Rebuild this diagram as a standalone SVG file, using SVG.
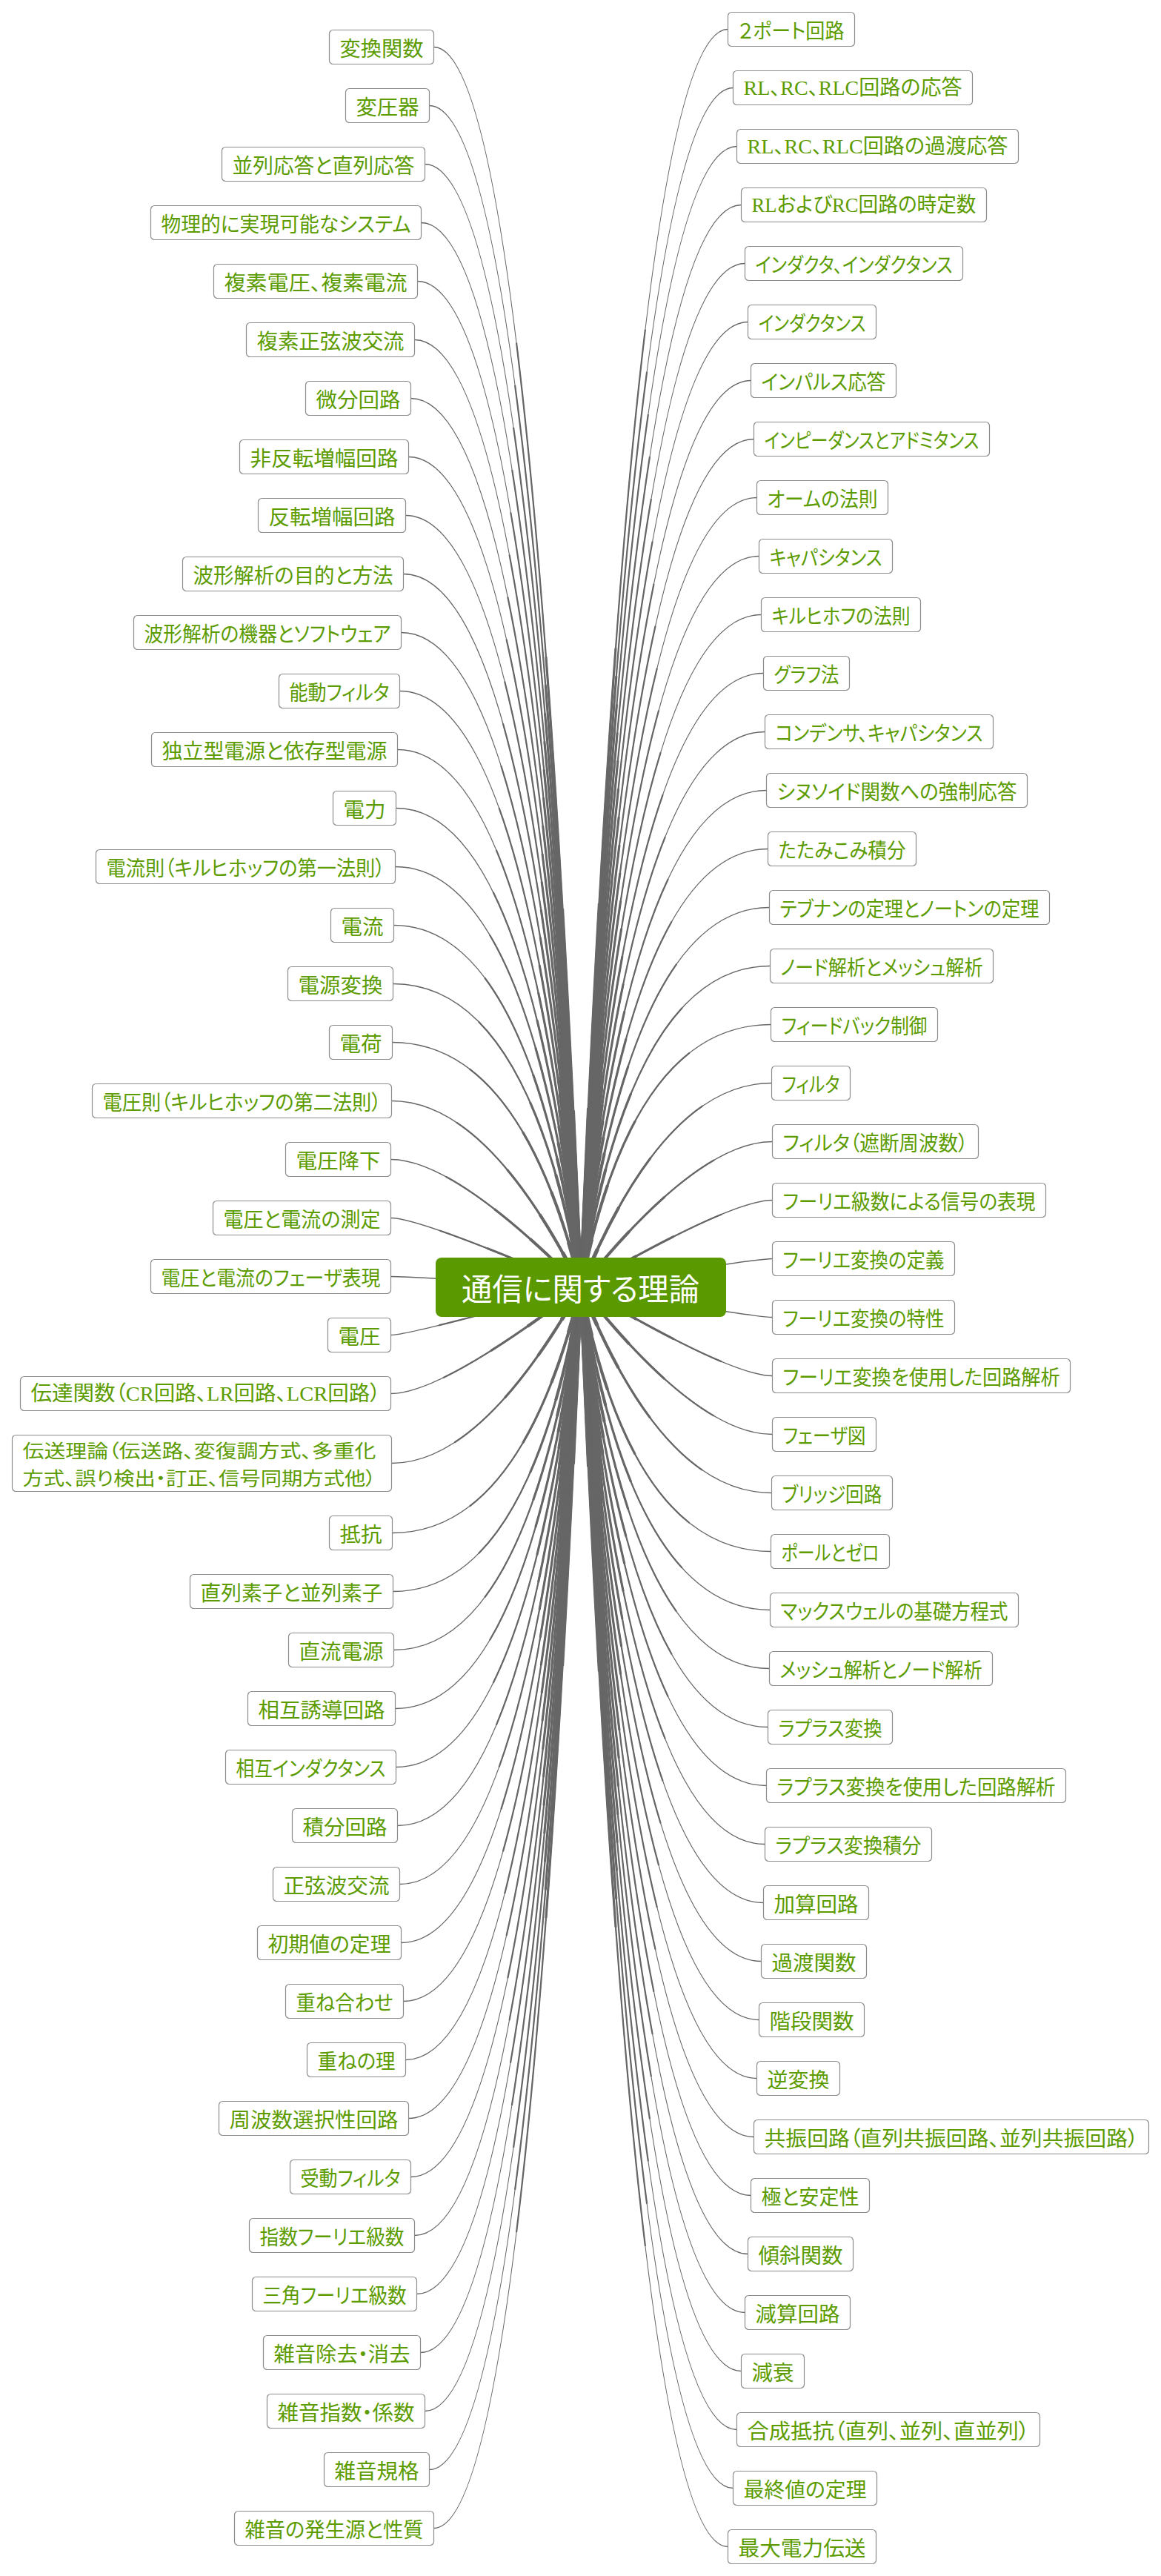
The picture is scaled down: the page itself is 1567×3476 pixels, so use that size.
<svg xmlns="http://www.w3.org/2000/svg" xmlns:xlink="http://www.w3.org/1999/xlink" width="1567" height="3476" viewBox="0 0 1567 3476">
<style>
.bg{fill:#fff}
.b{fill:#fff;stroke:#8c8c8c;stroke-width:1.2}
.t{font-family:"Noto Sans CJK JP","Noto Sans CJK SC",sans-serif;font-size:28px;fill:#5c9c00;text-anchor:middle;dominant-baseline:central;font-feature-settings:"palt"}
.s{font-family:"Liberation Serif","Noto Sans CJK JP",serif}
.st{text-anchor:start;font-size:25px}
.base{fill:none;stroke:#666;stroke-width:1.3}
.t1{fill:none;stroke:#666;stroke-width:2.2;stroke-dasharray:0 25 100}
.t2{fill:none;stroke:#666;stroke-width:3.1;stroke-dasharray:0 50 100}
.t3{fill:none;stroke:#666;stroke-width:4.1;stroke-dasharray:0 70 100}
.t4{fill:none;stroke:#666;stroke-width:5.3;stroke-dasharray:0 86 100}
.rt{font-family:"Noto Sans CJK JP",sans-serif;font-size:42px;fill:#fff;text-anchor:middle;dominant-baseline:central;font-feature-settings:"palt"}
</style>
<rect class="bg" x="0" y="0" width="1567" height="3476"/>
<g id="connectors">
<g class="base">
<path id="cl0" pathLength="100" d="M585.5,63.5Q714,63.5 784,1737"/>
<path id="cl1" pathLength="100" d="M579.5,142.5Q714,142.5 784,1737"/>
<path id="cl2" pathLength="100" d="M573.5,221.5Q714,221.5 784,1737"/>
<path id="cl3" pathLength="100" d="M568.5,300.5Q714,300.5 784,1737"/>
<path id="cl4" pathLength="100" d="M563.5,379.5Q714,379.5 784,1737"/>
<path id="cl5" pathLength="100" d="M559.5,458.5Q714,458.5 784,1737"/>
<path id="cl6" pathLength="100" d="M554.5,537.5Q714,537.5 784,1737"/>
<path id="cl7" pathLength="100" d="M551.5,616.5Q714,616.5 784,1737"/>
<path id="cl8" pathLength="100" d="M547.5,695.5Q714,695.5 784,1737"/>
<path id="cl9" pathLength="100" d="M544.5,774.5Q714,774.5 784,1737"/>
<path id="cl10" pathLength="100" d="M541.5,853.5Q714,853.5 784,1737"/>
<path id="cl11" pathLength="100" d="M539.5,932.5Q714,932.5 784,1737"/>
<path id="cl12" pathLength="100" d="M536.5,1011.5Q714,1011.5 784,1737"/>
<path id="cl13" pathLength="100" d="M534.5,1090.5Q714,1090.5 784,1737"/>
<path id="cl14" pathLength="100" d="M533.5,1169.5Q714,1169.5 784,1737"/>
<path id="cl15" pathLength="100" d="M531.5,1248.5Q714,1248.5 784,1737"/>
<path id="cl16" pathLength="100" d="M530.5,1327.5Q714,1327.5 784,1737"/>
<path id="cl17" pathLength="100" d="M529.5,1406.5Q703,1406.5 784,1737"/>
<path id="cl18" pathLength="100" d="M528.5,1485.5Q658,1485.5 784,1737"/>
<path id="cl19" pathLength="100" d="M527.5,1564.5Q613,1564.5 784,1737"/>
<path id="cl20" pathLength="100" d="M527.5,1643.5Q567,1643.5 784,1737"/>
<path id="cl21" pathLength="100" d="M527.5,1722.5Q553,1722.5 784,1737"/>
<path id="cl22" pathLength="100" d="M527.5,1801.5Q553,1801.5 784,1737"/>
<path id="cl23" pathLength="100" d="M527.5,1880.5Q596,1880.5 784,1737"/>
<path id="cl24" pathLength="100" d="M528.5,1974.5Q650,1974.5 784,1737"/>
<path id="cl25" pathLength="100" d="M529.5,2068.5Q703,2068.5 784,1737"/>
<path id="cl26" pathLength="100" d="M530.5,2147.5Q714,2147.5 784,1737"/>
<path id="cl27" pathLength="100" d="M531.5,2226.5Q714,2226.5 784,1737"/>
<path id="cl28" pathLength="100" d="M533.5,2305.5Q714,2305.5 784,1737"/>
<path id="cl29" pathLength="100" d="M534.5,2384.5Q714,2384.5 784,1737"/>
<path id="cl30" pathLength="100" d="M536.5,2463.5Q714,2463.5 784,1737"/>
<path id="cl31" pathLength="100" d="M539.5,2542.5Q714,2542.5 784,1737"/>
<path id="cl32" pathLength="100" d="M541.5,2621.5Q714,2621.5 784,1737"/>
<path id="cl33" pathLength="100" d="M544.5,2700.5Q714,2700.5 784,1737"/>
<path id="cl34" pathLength="100" d="M547.5,2779.5Q714,2779.5 784,1737"/>
<path id="cl35" pathLength="100" d="M551.5,2858.5Q714,2858.5 784,1737"/>
<path id="cl36" pathLength="100" d="M554.5,2937.5Q714,2937.5 784,1737"/>
<path id="cl37" pathLength="100" d="M559.5,3016.5Q714,3016.5 784,1737"/>
<path id="cl38" pathLength="100" d="M562.5,3095.5Q714,3095.5 784,1737"/>
<path id="cl39" pathLength="100" d="M567.5,3174.5Q714,3174.5 784,1737"/>
<path id="cl40" pathLength="100" d="M573.5,3253.5Q714,3253.5 784,1737"/>
<path id="cl41" pathLength="100" d="M579.5,3332.5Q714,3332.5 784,1737"/>
<path id="cl42" pathLength="100" d="M585.5,3411.5Q714,3411.5 784,1737"/>
<path id="cr0" pathLength="100" d="M982.5,39.5Q854,39.5 784,1737"/>
<path id="cr1" pathLength="100" d="M989.5,118.5Q854,118.5 784,1737"/>
<path id="cr2" pathLength="100" d="M994.5,197.5Q854,197.5 784,1737"/>
<path id="cr3" pathLength="100" d="M1000.5,276.5Q854,276.5 784,1737"/>
<path id="cr4" pathLength="100" d="M1005.5,355.5Q854,355.5 784,1737"/>
<path id="cr5" pathLength="100" d="M1009.5,434.5Q854,434.5 784,1737"/>
<path id="cr6" pathLength="100" d="M1013.5,513.5Q854,513.5 784,1737"/>
<path id="cr7" pathLength="100" d="M1017.5,592.5Q854,592.5 784,1737"/>
<path id="cr8" pathLength="100" d="M1021.5,671.5Q854,671.5 784,1737"/>
<path id="cr9" pathLength="100" d="M1024.5,750.5Q854,750.5 784,1737"/>
<path id="cr10" pathLength="100" d="M1027.5,829.5Q854,829.5 784,1737"/>
<path id="cr11" pathLength="100" d="M1030.5,908.5Q854,908.5 784,1737"/>
<path id="cr12" pathLength="100" d="M1032.5,987.5Q854,987.5 784,1737"/>
<path id="cr13" pathLength="100" d="M1034.5,1066.5Q854,1066.5 784,1737"/>
<path id="cr14" pathLength="100" d="M1036.5,1145.5Q854,1145.5 784,1737"/>
<path id="cr15" pathLength="100" d="M1038.5,1224.5Q854,1224.5 784,1737"/>
<path id="cr16" pathLength="100" d="M1039.5,1303.5Q854,1303.5 784,1737"/>
<path id="cr17" pathLength="100" d="M1040.5,1382.5Q854,1382.5 784,1737"/>
<path id="cr18" pathLength="100" d="M1041.5,1461.5Q897,1461.5 784,1737"/>
<path id="cr19" pathLength="100" d="M1042.5,1540.5Q942,1540.5 784,1737"/>
<path id="cr20" pathLength="100" d="M1042.5,1619.5Q987,1619.5 784,1737"/>
<path id="cr21" pathLength="100" d="M1042.5,1698.5Q1017,1698.5 784,1737"/>
<path id="cr22" pathLength="100" d="M1042.5,1777.5Q1017,1777.5 784,1737"/>
<path id="cr23" pathLength="100" d="M1042.5,1856.5Q986,1856.5 784,1737"/>
<path id="cr24" pathLength="100" d="M1042.5,1935.5Q941,1935.5 784,1737"/>
<path id="cr25" pathLength="100" d="M1041.5,2014.5Q895,2014.5 784,1737"/>
<path id="cr26" pathLength="100" d="M1040.5,2093.5Q854,2093.5 784,1737"/>
<path id="cr27" pathLength="100" d="M1039.5,2172.5Q854,2172.5 784,1737"/>
<path id="cr28" pathLength="100" d="M1038.5,2251.5Q854,2251.5 784,1737"/>
<path id="cr29" pathLength="100" d="M1036.5,2330.5Q854,2330.5 784,1737"/>
<path id="cr30" pathLength="100" d="M1034.5,2409.5Q854,2409.5 784,1737"/>
<path id="cr31" pathLength="100" d="M1032.5,2488.5Q854,2488.5 784,1737"/>
<path id="cr32" pathLength="100" d="M1030.5,2567.5Q854,2567.5 784,1737"/>
<path id="cr33" pathLength="100" d="M1027.5,2646.5Q854,2646.5 784,1737"/>
<path id="cr34" pathLength="100" d="M1024.5,2725.5Q854,2725.5 784,1737"/>
<path id="cr35" pathLength="100" d="M1021.5,2804.5Q854,2804.5 784,1737"/>
<path id="cr36" pathLength="100" d="M1017.5,2883.5Q854,2883.5 784,1737"/>
<path id="cr37" pathLength="100" d="M1013.5,2962.5Q854,2962.5 784,1737"/>
<path id="cr38" pathLength="100" d="M1009.5,3041.5Q854,3041.5 784,1737"/>
<path id="cr39" pathLength="100" d="M1005.5,3120.5Q854,3120.5 784,1737"/>
<path id="cr40" pathLength="100" d="M1000.5,3199.5Q854,3199.5 784,1737"/>
<path id="cr41" pathLength="100" d="M994.5,3278.5Q854,3278.5 784,1737"/>
<path id="cr42" pathLength="100" d="M989.5,3357.5Q854,3357.5 784,1737"/>
<path id="cr43" pathLength="100" d="M982.5,3436.5Q854,3436.5 784,1737"/>
</g>
<g class="t1">
<use href="#cl0"/><use href="#cl1"/><use href="#cl2"/><use href="#cl3"/><use href="#cl4"/><use href="#cl5"/><use href="#cl6"/><use href="#cl7"/><use href="#cl8"/><use href="#cl9"/><use href="#cl10"/><use href="#cl11"/><use href="#cl12"/><use href="#cl13"/><use href="#cl14"/><use href="#cl15"/><use href="#cl16"/><use href="#cl17"/><use href="#cl18"/><use href="#cl19"/><use href="#cl20"/><use href="#cl21"/><use href="#cl22"/><use href="#cl23"/><use href="#cl24"/><use href="#cl25"/><use href="#cl26"/><use href="#cl27"/><use href="#cl28"/><use href="#cl29"/><use href="#cl30"/><use href="#cl31"/><use href="#cl32"/><use href="#cl33"/><use href="#cl34"/><use href="#cl35"/><use href="#cl36"/><use href="#cl37"/><use href="#cl38"/><use href="#cl39"/><use href="#cl40"/><use href="#cl41"/><use href="#cl42"/>
<use href="#cr0"/><use href="#cr1"/><use href="#cr2"/><use href="#cr3"/><use href="#cr4"/><use href="#cr5"/><use href="#cr6"/><use href="#cr7"/><use href="#cr8"/><use href="#cr9"/><use href="#cr10"/><use href="#cr11"/><use href="#cr12"/><use href="#cr13"/><use href="#cr14"/><use href="#cr15"/><use href="#cr16"/><use href="#cr17"/><use href="#cr18"/><use href="#cr19"/><use href="#cr20"/><use href="#cr21"/><use href="#cr22"/><use href="#cr23"/><use href="#cr24"/><use href="#cr25"/><use href="#cr26"/><use href="#cr27"/><use href="#cr28"/><use href="#cr29"/><use href="#cr30"/><use href="#cr31"/><use href="#cr32"/><use href="#cr33"/><use href="#cr34"/><use href="#cr35"/><use href="#cr36"/><use href="#cr37"/><use href="#cr38"/><use href="#cr39"/><use href="#cr40"/><use href="#cr41"/><use href="#cr42"/><use href="#cr43"/>
</g>
<g class="t2">
<use href="#cl0"/><use href="#cl1"/><use href="#cl2"/><use href="#cl3"/><use href="#cl4"/><use href="#cl5"/><use href="#cl6"/><use href="#cl7"/><use href="#cl8"/><use href="#cl9"/><use href="#cl10"/><use href="#cl11"/><use href="#cl12"/><use href="#cl13"/><use href="#cl14"/><use href="#cl15"/><use href="#cl16"/><use href="#cl17"/><use href="#cl18"/><use href="#cl19"/><use href="#cl20"/><use href="#cl21"/><use href="#cl22"/><use href="#cl23"/><use href="#cl24"/><use href="#cl25"/><use href="#cl26"/><use href="#cl27"/><use href="#cl28"/><use href="#cl29"/><use href="#cl30"/><use href="#cl31"/><use href="#cl32"/><use href="#cl33"/><use href="#cl34"/><use href="#cl35"/><use href="#cl36"/><use href="#cl37"/><use href="#cl38"/><use href="#cl39"/><use href="#cl40"/><use href="#cl41"/><use href="#cl42"/>
<use href="#cr0"/><use href="#cr1"/><use href="#cr2"/><use href="#cr3"/><use href="#cr4"/><use href="#cr5"/><use href="#cr6"/><use href="#cr7"/><use href="#cr8"/><use href="#cr9"/><use href="#cr10"/><use href="#cr11"/><use href="#cr12"/><use href="#cr13"/><use href="#cr14"/><use href="#cr15"/><use href="#cr16"/><use href="#cr17"/><use href="#cr18"/><use href="#cr19"/><use href="#cr20"/><use href="#cr21"/><use href="#cr22"/><use href="#cr23"/><use href="#cr24"/><use href="#cr25"/><use href="#cr26"/><use href="#cr27"/><use href="#cr28"/><use href="#cr29"/><use href="#cr30"/><use href="#cr31"/><use href="#cr32"/><use href="#cr33"/><use href="#cr34"/><use href="#cr35"/><use href="#cr36"/><use href="#cr37"/><use href="#cr38"/><use href="#cr39"/><use href="#cr40"/><use href="#cr41"/><use href="#cr42"/><use href="#cr43"/>
</g>
<g class="t3">
<use href="#cl0"/><use href="#cl1"/><use href="#cl2"/><use href="#cl3"/><use href="#cl4"/><use href="#cl5"/><use href="#cl6"/><use href="#cl7"/><use href="#cl8"/><use href="#cl9"/><use href="#cl10"/><use href="#cl11"/><use href="#cl12"/><use href="#cl13"/><use href="#cl14"/><use href="#cl15"/><use href="#cl16"/><use href="#cl17"/><use href="#cl18"/><use href="#cl19"/><use href="#cl20"/><use href="#cl21"/><use href="#cl22"/><use href="#cl23"/><use href="#cl24"/><use href="#cl25"/><use href="#cl26"/><use href="#cl27"/><use href="#cl28"/><use href="#cl29"/><use href="#cl30"/><use href="#cl31"/><use href="#cl32"/><use href="#cl33"/><use href="#cl34"/><use href="#cl35"/><use href="#cl36"/><use href="#cl37"/><use href="#cl38"/><use href="#cl39"/><use href="#cl40"/><use href="#cl41"/><use href="#cl42"/>
<use href="#cr0"/><use href="#cr1"/><use href="#cr2"/><use href="#cr3"/><use href="#cr4"/><use href="#cr5"/><use href="#cr6"/><use href="#cr7"/><use href="#cr8"/><use href="#cr9"/><use href="#cr10"/><use href="#cr11"/><use href="#cr12"/><use href="#cr13"/><use href="#cr14"/><use href="#cr15"/><use href="#cr16"/><use href="#cr17"/><use href="#cr18"/><use href="#cr19"/><use href="#cr20"/><use href="#cr21"/><use href="#cr22"/><use href="#cr23"/><use href="#cr24"/><use href="#cr25"/><use href="#cr26"/><use href="#cr27"/><use href="#cr28"/><use href="#cr29"/><use href="#cr30"/><use href="#cr31"/><use href="#cr32"/><use href="#cr33"/><use href="#cr34"/><use href="#cr35"/><use href="#cr36"/><use href="#cr37"/><use href="#cr38"/><use href="#cr39"/><use href="#cr40"/><use href="#cr41"/><use href="#cr42"/><use href="#cr43"/>
</g>
<g class="t4">
<use href="#cl0"/><use href="#cl1"/><use href="#cl2"/><use href="#cl3"/><use href="#cl4"/><use href="#cl5"/><use href="#cl6"/><use href="#cl7"/><use href="#cl8"/><use href="#cl9"/><use href="#cl10"/><use href="#cl11"/><use href="#cl12"/><use href="#cl13"/><use href="#cl14"/><use href="#cl15"/><use href="#cl16"/><use href="#cl17"/><use href="#cl18"/><use href="#cl19"/><use href="#cl20"/><use href="#cl21"/><use href="#cl22"/><use href="#cl23"/><use href="#cl24"/><use href="#cl25"/><use href="#cl26"/><use href="#cl27"/><use href="#cl28"/><use href="#cl29"/><use href="#cl30"/><use href="#cl31"/><use href="#cl32"/><use href="#cl33"/><use href="#cl34"/><use href="#cl35"/><use href="#cl36"/><use href="#cl37"/><use href="#cl38"/><use href="#cl39"/><use href="#cl40"/><use href="#cl41"/><use href="#cl42"/>
<use href="#cr0"/><use href="#cr1"/><use href="#cr2"/><use href="#cr3"/><use href="#cr4"/><use href="#cr5"/><use href="#cr6"/><use href="#cr7"/><use href="#cr8"/><use href="#cr9"/><use href="#cr10"/><use href="#cr11"/><use href="#cr12"/><use href="#cr13"/><use href="#cr14"/><use href="#cr15"/><use href="#cr16"/><use href="#cr17"/><use href="#cr18"/><use href="#cr19"/><use href="#cr20"/><use href="#cr21"/><use href="#cr22"/><use href="#cr23"/><use href="#cr24"/><use href="#cr25"/><use href="#cr26"/><use href="#cr27"/><use href="#cr28"/><use href="#cr29"/><use href="#cr30"/><use href="#cr31"/><use href="#cr32"/><use href="#cr33"/><use href="#cr34"/><use href="#cr35"/><use href="#cr36"/><use href="#cr37"/><use href="#cr38"/><use href="#cr39"/><use href="#cr40"/><use href="#cr41"/><use href="#cr42"/><use href="#cr43"/>
</g>
</g>
<g id="left-nodes">
<g id="nL0"><rect class="b" x="444.5" y="40.5" width="141" height="46" rx="5"/><text class="t" x="515" y="63.5" textLength="113" lengthAdjust="spacingAndGlyphs">変換関数</text></g>
<g id="nL1"><rect class="b" x="466.5" y="119.5" width="113" height="46" rx="5"/><text class="t" x="523" y="142.5" textLength="85" lengthAdjust="spacingAndGlyphs">変圧器</text></g>
<g id="nL2"><rect class="b" x="299.5" y="198.5" width="274" height="46" rx="5"/><text class="t" x="436.5" y="221.5" textLength="246" lengthAdjust="spacingAndGlyphs">並列応答と直列応答</text></g>
<g id="nL3"><rect class="b" x="203.5" y="277.5" width="365" height="46" rx="5"/><text class="t" x="386" y="300.5" textLength="337" lengthAdjust="spacingAndGlyphs">物理的に実現可能なシステム</text></g>
<g id="nL4"><rect class="b" x="288.5" y="356.5" width="275" height="46" rx="5"/><text class="t" x="426" y="379.5" textLength="247" lengthAdjust="spacingAndGlyphs">複素電圧、複素電流</text></g>
<g id="nL5"><rect class="b" x="332.5" y="435.5" width="227" height="46" rx="5"/><text class="t" x="446" y="458.5" textLength="199" lengthAdjust="spacingAndGlyphs">複素正弦波交流</text></g>
<g id="nL6"><rect class="b" x="412.5" y="514.5" width="142" height="46" rx="5"/><text class="t" x="483.5" y="537.5" textLength="114" lengthAdjust="spacingAndGlyphs">微分回路</text></g>
<g id="nL7"><rect class="b" x="323.5" y="593.5" width="228" height="46" rx="5"/><text class="t" x="437.5" y="616.5" textLength="200" lengthAdjust="spacingAndGlyphs">非反転増幅回路</text></g>
<g id="nL8"><rect class="b" x="348.5" y="672.5" width="199" height="46" rx="5"/><text class="t" x="448" y="695.5" textLength="171" lengthAdjust="spacingAndGlyphs">反転増幅回路</text></g>
<g id="nL9"><rect class="b" x="246.5" y="751.5" width="298" height="46" rx="5"/><text class="t" x="395.5" y="774.5" textLength="270" lengthAdjust="spacingAndGlyphs">波形解析の目的と方法</text></g>
<g id="nL10"><rect class="b" x="180.5" y="830.5" width="361" height="46" rx="5"/><text class="t" x="361" y="853.5" textLength="333" lengthAdjust="spacingAndGlyphs">波形解析の機器とソフトウェア</text></g>
<g id="nL11"><rect class="b" x="376.5" y="909.5" width="163" height="46" rx="5"/><text class="t" x="458" y="932.5" textLength="135" lengthAdjust="spacingAndGlyphs">能動フィルタ</text></g>
<g id="nL12"><rect class="b" x="204.5" y="988.5" width="332" height="46" rx="5"/><text class="t" x="370.5" y="1011.5" textLength="304" lengthAdjust="spacingAndGlyphs">独立型電源と依存型電源</text></g>
<g id="nL13"><rect class="b" x="449.5" y="1067.5" width="85" height="46" rx="5"/><text class="t" x="492" y="1090.5" textLength="57" lengthAdjust="spacingAndGlyphs">電力</text></g>
<g id="nL14"><rect class="b" x="129.5" y="1146.5" width="404" height="46" rx="5"/><text class="t" x="331.5" y="1169.5" textLength="376" lengthAdjust="spacingAndGlyphs">電流則（キルヒホッフの第一法則）</text></g>
<g id="nL15"><rect class="b" x="446.5" y="1225.5" width="85" height="46" rx="5"/><text class="t" x="489" y="1248.5" textLength="57" lengthAdjust="spacingAndGlyphs">電流</text></g>
<g id="nL16"><rect class="b" x="388.5" y="1304.5" width="142" height="46" rx="5"/><text class="t" x="459.5" y="1327.5" textLength="114" lengthAdjust="spacingAndGlyphs">電源変換</text></g>
<g id="nL17"><rect class="b" x="444.5" y="1383.5" width="85" height="46" rx="5"/><text class="t" x="487" y="1406.5" textLength="57" lengthAdjust="spacingAndGlyphs">電荷</text></g>
<g id="nL18"><rect class="b" x="124.5" y="1462.5" width="404" height="46" rx="5"/><text class="t" x="326.5" y="1485.5" textLength="376" lengthAdjust="spacingAndGlyphs">電圧則（キルヒホッフの第二法則）</text></g>
<g id="nL19"><rect class="b" x="385.5" y="1541.5" width="142" height="46" rx="5"/><text class="t" x="456.5" y="1564.5" textLength="114" lengthAdjust="spacingAndGlyphs">電圧降下</text></g>
<g id="nL20"><rect class="b" x="287.5" y="1620.5" width="240" height="46" rx="5"/><text class="t" x="407.5" y="1643.5" textLength="212" lengthAdjust="spacingAndGlyphs">電圧と電流の測定</text></g>
<g id="nL21"><rect class="b" x="203.5" y="1699.5" width="324" height="46" rx="5"/><text class="t" x="365.5" y="1722.5" textLength="296" lengthAdjust="spacingAndGlyphs">電圧と電流のフェーザ表現</text></g>
<g id="nL22"><rect class="b" x="442.5" y="1778.5" width="85" height="46" rx="5"/><text class="t" x="485" y="1801.5" textLength="57" lengthAdjust="spacingAndGlyphs">電圧</text></g>
<g id="nL23"><rect class="b" x="27.5" y="1857.5" width="500" height="46" rx="5"/><text class="t s" x="277.5" y="1880.5" textLength="472" lengthAdjust="spacingAndGlyphs">伝達関数（CR回路、LR回路、LCR回路）</text></g>
<g id="nL24"><rect class="b" x="16.5" y="1936.5" width="512" height="76" rx="5"/><text class="t st"><tspan x="30.5" y="1956" textLength="477" lengthAdjust="spacingAndGlyphs">伝送理論（伝送路、変復調方式、多重化</tspan><tspan x="30.5" y="1993" textLength="477" lengthAdjust="spacingAndGlyphs">方式、誤り検出・訂正、信号同期方式他）</tspan></text></g>
<g id="nL25"><rect class="b" x="444.5" y="2045.5" width="85" height="46" rx="5"/><text class="t" x="487" y="2068.5" textLength="57" lengthAdjust="spacingAndGlyphs">抵抗</text></g>
<g id="nL26"><rect class="b" x="256.5" y="2124.5" width="274" height="46" rx="5"/><text class="t" x="393.5" y="2147.5" textLength="246" lengthAdjust="spacingAndGlyphs">直列素子と並列素子</text></g>
<g id="nL27"><rect class="b" x="389.5" y="2203.5" width="142" height="46" rx="5"/><text class="t" x="460.5" y="2226.5" textLength="114" lengthAdjust="spacingAndGlyphs">直流電源</text></g>
<g id="nL28"><rect class="b" x="334.5" y="2282.5" width="199" height="46" rx="5"/><text class="t" x="434" y="2305.5" textLength="171" lengthAdjust="spacingAndGlyphs">相互誘導回路</text></g>
<g id="nL29"><rect class="b" x="304.5" y="2361.5" width="230" height="46" rx="5"/><text class="t" x="419.5" y="2384.5" textLength="202" lengthAdjust="spacingAndGlyphs">相互インダクタンス</text></g>
<g id="nL30"><rect class="b" x="394.5" y="2440.5" width="142" height="46" rx="5"/><text class="t" x="465.5" y="2463.5" textLength="114" lengthAdjust="spacingAndGlyphs">積分回路</text></g>
<g id="nL31"><rect class="b" x="368.5" y="2519.5" width="171" height="46" rx="5"/><text class="t" x="454" y="2542.5" textLength="143" lengthAdjust="spacingAndGlyphs">正弦波交流</text></g>
<g id="nL32"><rect class="b" x="347.5" y="2598.5" width="194" height="46" rx="5"/><text class="t" x="444.5" y="2621.5" textLength="166" lengthAdjust="spacingAndGlyphs">初期値の定理</text></g>
<g id="nL33"><rect class="b" x="385.5" y="2677.5" width="159" height="46" rx="5"/><text class="t" x="465" y="2700.5" textLength="131" lengthAdjust="spacingAndGlyphs">重ね合わせ</text></g>
<g id="nL34"><rect class="b" x="414.5" y="2756.5" width="133" height="46" rx="5"/><text class="t" x="481" y="2779.5" textLength="105" lengthAdjust="spacingAndGlyphs">重ねの理</text></g>
<g id="nL35"><rect class="b" x="295.5" y="2835.5" width="256" height="46" rx="5"/><text class="t" x="423.5" y="2858.5" textLength="228" lengthAdjust="spacingAndGlyphs">周波数選択性回路</text></g>
<g id="nL36"><rect class="b" x="391.5" y="2914.5" width="163" height="46" rx="5"/><text class="t" x="473" y="2937.5" textLength="135" lengthAdjust="spacingAndGlyphs">受動フィルタ</text></g>
<g id="nL37"><rect class="b" x="336.5" y="2993.5" width="223" height="46" rx="5"/><text class="t" x="448" y="3016.5" textLength="195" lengthAdjust="spacingAndGlyphs">指数フーリエ級数</text></g>
<g id="nL38"><rect class="b" x="340.5" y="3072.5" width="222" height="46" rx="5"/><text class="t" x="451.5" y="3095.5" textLength="194" lengthAdjust="spacingAndGlyphs">三角フーリエ級数</text></g>
<g id="nL39"><rect class="b" x="355.5" y="3151.5" width="212" height="46" rx="5"/><text class="t" x="461.5" y="3174.5" textLength="184" lengthAdjust="spacingAndGlyphs">雑音除去・消去</text></g>
<g id="nL40"><rect class="b" x="360.5" y="3230.5" width="213" height="46" rx="5"/><text class="t" x="467" y="3253.5" textLength="185" lengthAdjust="spacingAndGlyphs">雑音指数・係数</text></g>
<g id="nL41"><rect class="b" x="437.5" y="3309.5" width="142" height="46" rx="5"/><text class="t" x="508.5" y="3332.5" textLength="114" lengthAdjust="spacingAndGlyphs">雑音規格</text></g>
<g id="nL42"><rect class="b" x="316.5" y="3388.5" width="269" height="46" rx="5"/><text class="t" x="451" y="3411.5" textLength="241" lengthAdjust="spacingAndGlyphs">雑音の発生源と性質</text></g>
</g>
<g id="right-nodes">
<g id="nR0"><rect class="b" x="982.5" y="16.5" width="171" height="46" rx="5"/><text class="t" x="1068" y="39.5" textLength="143" lengthAdjust="spacingAndGlyphs">２ポート回路</text></g>
<g id="nR1"><rect class="b" x="989.5" y="95.5" width="323" height="46" rx="5"/><text class="t s" x="1151" y="118.5" textLength="295" lengthAdjust="spacingAndGlyphs">RL、RC、RLC回路の応答</text></g>
<g id="nR2"><rect class="b" x="994.5" y="174.5" width="380" height="46" rx="5"/><text class="t s" x="1184.5" y="197.5" textLength="352" lengthAdjust="spacingAndGlyphs">RL、RC、RLC回路の過渡応答</text></g>
<g id="nR3"><rect class="b" x="1000.5" y="253.5" width="331" height="46" rx="5"/><text class="t s" x="1166" y="276.5" textLength="303" lengthAdjust="spacingAndGlyphs">RLおよびRC回路の時定数</text></g>
<g id="nR4"><rect class="b" x="1005.5" y="332.5" width="294" height="46" rx="5"/><text class="t" x="1152.5" y="355.5" textLength="266" lengthAdjust="spacingAndGlyphs">インダクタ、インダクタンス</text></g>
<g id="nR5"><rect class="b" x="1009.5" y="411.5" width="173" height="46" rx="5"/><text class="t" x="1096" y="434.5" textLength="145" lengthAdjust="spacingAndGlyphs">インダクタンス</text></g>
<g id="nR6"><rect class="b" x="1013.5" y="490.5" width="196" height="46" rx="5"/><text class="t" x="1111.5" y="513.5" textLength="168" lengthAdjust="spacingAndGlyphs">インパルス応答</text></g>
<g id="nR7"><rect class="b" x="1017.5" y="569.5" width="318" height="46" rx="5"/><text class="t" x="1176.5" y="592.5" textLength="290" lengthAdjust="spacingAndGlyphs">インピーダンスとアドミタンス</text></g>
<g id="nR8"><rect class="b" x="1021.5" y="648.5" width="177" height="46" rx="5"/><text class="t" x="1110" y="671.5" textLength="149" lengthAdjust="spacingAndGlyphs">オームの法則</text></g>
<g id="nR9"><rect class="b" x="1024.5" y="727.5" width="180" height="46" rx="5"/><text class="t" x="1114.5" y="750.5" textLength="152" lengthAdjust="spacingAndGlyphs">キャパシタンス</text></g>
<g id="nR10"><rect class="b" x="1027.5" y="806.5" width="215" height="46" rx="5"/><text class="t" x="1135" y="829.5" textLength="187" lengthAdjust="spacingAndGlyphs">キルヒホフの法則</text></g>
<g id="nR11"><rect class="b" x="1030.5" y="885.5" width="116" height="46" rx="5"/><text class="t" x="1088.5" y="908.5" textLength="88" lengthAdjust="spacingAndGlyphs">グラフ法</text></g>
<g id="nR12"><rect class="b" x="1032.5" y="964.5" width="308" height="46" rx="5"/><text class="t" x="1186.5" y="987.5" textLength="280" lengthAdjust="spacingAndGlyphs">コンデンサ、キャパシタンス</text></g>
<g id="nR13"><rect class="b" x="1034.5" y="1043.5" width="352" height="46" rx="5"/><text class="t" x="1210.5" y="1066.5" textLength="324" lengthAdjust="spacingAndGlyphs">シヌソイド関数への強制応答</text></g>
<g id="nR14"><rect class="b" x="1036.5" y="1122.5" width="200" height="46" rx="5"/><text class="t" x="1136.5" y="1145.5" textLength="172" lengthAdjust="spacingAndGlyphs">たたみこみ積分</text></g>
<g id="nR15"><rect class="b" x="1038.5" y="1201.5" width="378" height="46" rx="5"/><text class="t" x="1227.5" y="1224.5" textLength="350" lengthAdjust="spacingAndGlyphs">テブナンの定理とノートンの定理</text></g>
<g id="nR16"><rect class="b" x="1039.5" y="1280.5" width="301" height="46" rx="5"/><text class="t" x="1190" y="1303.5" textLength="273" lengthAdjust="spacingAndGlyphs">ノード解析とメッシュ解析</text></g>
<g id="nR17"><rect class="b" x="1040.5" y="1359.5" width="225" height="46" rx="5"/><text class="t" x="1153" y="1382.5" textLength="197" lengthAdjust="spacingAndGlyphs">フィードバック制御</text></g>
<g id="nR18"><rect class="b" x="1041.5" y="1438.5" width="106" height="46" rx="5"/><text class="t" x="1094.5" y="1461.5" textLength="78" lengthAdjust="spacingAndGlyphs">フィルタ</text></g>
<g id="nR19"><rect class="b" x="1042.5" y="1517.5" width="278" height="46" rx="5"/><text class="t" x="1181.5" y="1540.5" textLength="250" lengthAdjust="spacingAndGlyphs">フィルタ（遮断周波数）</text></g>
<g id="nR20"><rect class="b" x="1042.5" y="1596.5" width="369" height="46" rx="5"/><text class="t" x="1227" y="1619.5" textLength="341" lengthAdjust="spacingAndGlyphs">フーリエ級数による信号の表現</text></g>
<g id="nR21"><rect class="b" x="1042.5" y="1675.5" width="246" height="46" rx="5"/><text class="t" x="1165.5" y="1698.5" textLength="218" lengthAdjust="spacingAndGlyphs">フーリエ変換の定義</text></g>
<g id="nR22"><rect class="b" x="1042.5" y="1754.5" width="246" height="46" rx="5"/><text class="t" x="1165.5" y="1777.5" textLength="218" lengthAdjust="spacingAndGlyphs">フーリエ変換の特性</text></g>
<g id="nR23"><rect class="b" x="1042.5" y="1833.5" width="402" height="46" rx="5"/><text class="t" x="1243.5" y="1856.5" textLength="374" lengthAdjust="spacingAndGlyphs">フーリエ変換を使用した回路解析</text></g>
<g id="nR24"><rect class="b" x="1042.5" y="1912.5" width="140" height="46" rx="5"/><text class="t" x="1112.5" y="1935.5" textLength="112" lengthAdjust="spacingAndGlyphs">フェーザ図</text></g>
<g id="nR25"><rect class="b" x="1041.5" y="1991.5" width="163" height="46" rx="5"/><text class="t" x="1123" y="2014.5" textLength="135" lengthAdjust="spacingAndGlyphs">ブリッジ回路</text></g>
<g id="nR26"><rect class="b" x="1040.5" y="2070.5" width="160" height="46" rx="5"/><text class="t" x="1120.5" y="2093.5" textLength="132" lengthAdjust="spacingAndGlyphs">ポールとゼロ</text></g>
<g id="nR27"><rect class="b" x="1039.5" y="2149.5" width="335" height="46" rx="5"/><text class="t" x="1207" y="2172.5" textLength="307" lengthAdjust="spacingAndGlyphs">マックスウェルの基礎方程式</text></g>
<g id="nR28"><rect class="b" x="1038.5" y="2228.5" width="301" height="46" rx="5"/><text class="t" x="1189" y="2251.5" textLength="273" lengthAdjust="spacingAndGlyphs">メッシュ解析とノード解析</text></g>
<g id="nR29"><rect class="b" x="1036.5" y="2307.5" width="168" height="46" rx="5"/><text class="t" x="1120.5" y="2330.5" textLength="140" lengthAdjust="spacingAndGlyphs">ラプラス変換</text></g>
<g id="nR30"><rect class="b" x="1034.5" y="2386.5" width="404" height="46" rx="5"/><text class="t" x="1236.5" y="2409.5" textLength="376" lengthAdjust="spacingAndGlyphs">ラプラス変換を使用した回路解析</text></g>
<g id="nR31"><rect class="b" x="1032.5" y="2465.5" width="225" height="46" rx="5"/><text class="t" x="1145" y="2488.5" textLength="197" lengthAdjust="spacingAndGlyphs">ラプラス変換積分</text></g>
<g id="nR32"><rect class="b" x="1030.5" y="2544.5" width="142" height="46" rx="5"/><text class="t" x="1101.5" y="2567.5" textLength="114" lengthAdjust="spacingAndGlyphs">加算回路</text></g>
<g id="nR33"><rect class="b" x="1027.5" y="2623.5" width="142" height="46" rx="5"/><text class="t" x="1098.5" y="2646.5" textLength="114" lengthAdjust="spacingAndGlyphs">過渡関数</text></g>
<g id="nR34"><rect class="b" x="1024.5" y="2702.5" width="142" height="46" rx="5"/><text class="t" x="1095.5" y="2725.5" textLength="114" lengthAdjust="spacingAndGlyphs">階段関数</text></g>
<g id="nR35"><rect class="b" x="1021.5" y="2781.5" width="112" height="46" rx="5"/><text class="t" x="1077.5" y="2804.5" textLength="84" lengthAdjust="spacingAndGlyphs">逆変換</text></g>
<g id="nR36"><rect class="b" x="1017.5" y="2860.5" width="533" height="46" rx="5"/><text class="t" x="1284" y="2883.5" textLength="505" lengthAdjust="spacingAndGlyphs">共振回路（直列共振回路、並列共振回路）</text></g>
<g id="nR37"><rect class="b" x="1013.5" y="2939.5" width="160" height="46" rx="5"/><text class="t" x="1093.5" y="2962.5" textLength="132" lengthAdjust="spacingAndGlyphs">極と安定性</text></g>
<g id="nR38"><rect class="b" x="1009.5" y="3018.5" width="142" height="46" rx="5"/><text class="t" x="1080.5" y="3041.5" textLength="114" lengthAdjust="spacingAndGlyphs">傾斜関数</text></g>
<g id="nR39"><rect class="b" x="1005.5" y="3097.5" width="142" height="46" rx="5"/><text class="t" x="1076.5" y="3120.5" textLength="114" lengthAdjust="spacingAndGlyphs">減算回路</text></g>
<g id="nR40"><rect class="b" x="1000.5" y="3176.5" width="85" height="46" rx="5"/><text class="t" x="1043" y="3199.5" textLength="57" lengthAdjust="spacingAndGlyphs">減衰</text></g>
<g id="nR41"><rect class="b" x="994.5" y="3255.5" width="409" height="46" rx="5"/><text class="t" x="1199" y="3278.5" textLength="381" lengthAdjust="spacingAndGlyphs">合成抵抗（直列、並列、直並列）</text></g>
<g id="nR42"><rect class="b" x="989.5" y="3334.5" width="194" height="46" rx="5"/><text class="t" x="1086.5" y="3357.5" textLength="166" lengthAdjust="spacingAndGlyphs">最終値の定理</text></g>
<g id="nR43"><rect class="b" x="982.5" y="3413.5" width="200" height="46" rx="5"/><text class="t" x="1082.5" y="3436.5" textLength="172" lengthAdjust="spacingAndGlyphs">最大電力伝送</text></g>
</g>
<g id="root">
<rect x="588" y="1697" width="392" height="80" rx="8" fill="#5a9a00"/>
<text class="rt" x="783.5" y="1736" textLength="321" lengthAdjust="spacingAndGlyphs">通信に関する理論</text>
</g>
</svg>
